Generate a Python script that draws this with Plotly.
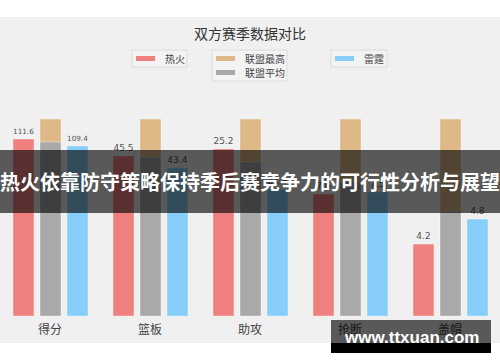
import plotly.graph_objects as go

# ---- data (bar heights as % of league max, labels show raw values) ----
categories = ["得分", "篮板", "助攻", "抢断", "盖帽"]
heat_pct = [89.8, 81.2, 84.8, 61.9, 36.5]
heat_labels = ["111.6", "45.5", "25.2", "7.6", "4.2"]
league_max_pct = [100, 100, 100, 100, 100]
league_avg_pct = [88.3, 80.7, 78.2, 68.0, 53.3]
thunder_pct = [86.3, 75.1, 64.5, 62.9, 49.2]
thunder_labels = ["109.4", "43.4", "21.3", "7.5", "4.8"]

title_text = "双方赛季数据对比"
banner_text = "热火依靠防守策略保持季后赛竞争力的可行性分析与展望"
watermark_text = "www.ttxuan.com"

W, H = 500, 362
T, B = 119, 46          # plot area from y=119 to y=316 px
PH = H - T - B

def px(x):
    return x / W

def py(y):
    return (H - B - y) / PH

CJK = "Noto Sans CJK SC"
C_HEAT = "#f08080"
C_MAX = "#deb887"
C_AVG = "#a9a9a9"
C_THU = "#87cefa"

fig = go.Figure()

def bar(vals, color, offset, text=None):
    return go.Bar(
        x=categories, y=vals, width=0.21, offset=offset,
        marker=dict(color=color, line=dict(color="rgba(255,255,255,0.35)", width=1)),
        text=text, textposition="outside" if text else None,
        textfont=dict(size=9, color="#555", family="DejaVu Sans"),
        cliponaxis=False, showlegend=False, hoverinfo="skip",
    )

fig.add_trace(bar(league_max_pct, C_MAX, -0.10))
fig.add_trace(bar(league_avg_pct, C_AVG, -0.10))
fig.add_trace(bar(heat_pct, C_HEAT, -0.37, heat_labels))
fig.add_trace(bar(thunder_pct, C_THU, 0.17, thunder_labels))

shapes = []
annotations = []

# chart background
shapes.append(dict(type="rect", xref="paper", yref="paper", layer="below",
                   x0=px(0), x1=px(500), y0=py(17), y1=py(343),
                   fillcolor="#f0f0f0", line=dict(width=0)))

# title
annotations.append(dict(text=title_text, xref="paper", yref="paper",
                        x=px(250), y=py(33), xanchor="center", yanchor="middle",
                        showarrow=False, font=dict(size=14, color="#333", family=CJK)))

# manual legend boxes
legend_boxes = [(132, 187, 50, 67), (212, 287, 50, 81), (331, 387, 50, 67)]
for x0, x1, y0, y1 in legend_boxes:
    shapes.append(dict(type="rect", xref="paper", yref="paper", layer="below",
                       x0=px(x0), x1=px(x1), y0=py(y1), y1=py(y0),
                       fillcolor="#f3f3f3", line=dict(color="#dcdcdc", width=1)))
legend_items = [
    ("热火", C_HEAT, 136, 58.5),
    ("联盟最高", C_MAX, 216, 58.5),
    ("联盟平均", C_AVG, 216, 72.5),
    ("雷霆", C_THU, 335, 58.5),
]
for name, color, sx, sy in legend_items:
    shapes.append(dict(type="rect", xref="paper", yref="paper", layer="below",
                       x0=px(sx), x1=px(sx + 19), y0=py(sy + 2.5), y1=py(sy - 2.5),
                       fillcolor=color, line=dict(width=0)))
    annotations.append(dict(text=name, xref="paper", yref="paper",
                            x=px(sx + 27), y=py(sy), xanchor="left", yanchor="middle",
                            showarrow=False, font=dict(size=10, color="#444", family=CJK)))

# overlay banner
shapes.append(dict(type="rect", xref="paper", yref="paper", layer="above",
                   x0=px(0), x1=px(500), y0=py(213), y1=py(150),
                   fillcolor="rgba(0,0,0,0.63)", line=dict(width=0)))
annotations.append(dict(text=banner_text, xref="paper", yref="paper",
                        x=px(250), y=py(181), xanchor="center", yanchor="middle",
                        showarrow=False,
                        font=dict(size=20, color="white", family=CJK, weight="bold")))

# watermark
shapes.append(dict(type="rect", xref="paper", yref="paper", layer="above",
                   x0=px(331), x1=px(491), y0=py(343), y1=py(320),
                   fillcolor="rgba(0,0,0,0.63)", line=dict(width=0)))
shapes.append(dict(type="rect", xref="paper", yref="paper", layer="above",
                   x0=px(331), x1=px(491), y0=py(353), y1=py(343),
                   fillcolor="black", line=dict(width=0)))
annotations.append(dict(text=watermark_text, xref="paper", yref="paper",
                        x=px(411), y=py(337), xanchor="center", yanchor="middle",
                        showarrow=False,
                        font=dict(size=17, color="white", family="Liberation Sans", weight="bold")))

fig.update_layout(
    width=W, height=H,
    margin=dict(l=0, r=0, t=T, b=B, pad=0),
    paper_bgcolor="white", plot_bgcolor="rgba(0,0,0,0)",
    barmode="overlay",
    shapes=shapes, annotations=annotations,
    xaxis=dict(range=[-0.5, 4.5], showgrid=False, zeroline=False, showline=False,
               ticks="", tickfont=dict(size=12, color="#444", family=CJK),
               ticklabelstandoff=5, fixedrange=True),
    yaxis=dict(range=[0, 100], visible=False, fixedrange=True),
    showlegend=False,
)

fig.write_html("out.html")
